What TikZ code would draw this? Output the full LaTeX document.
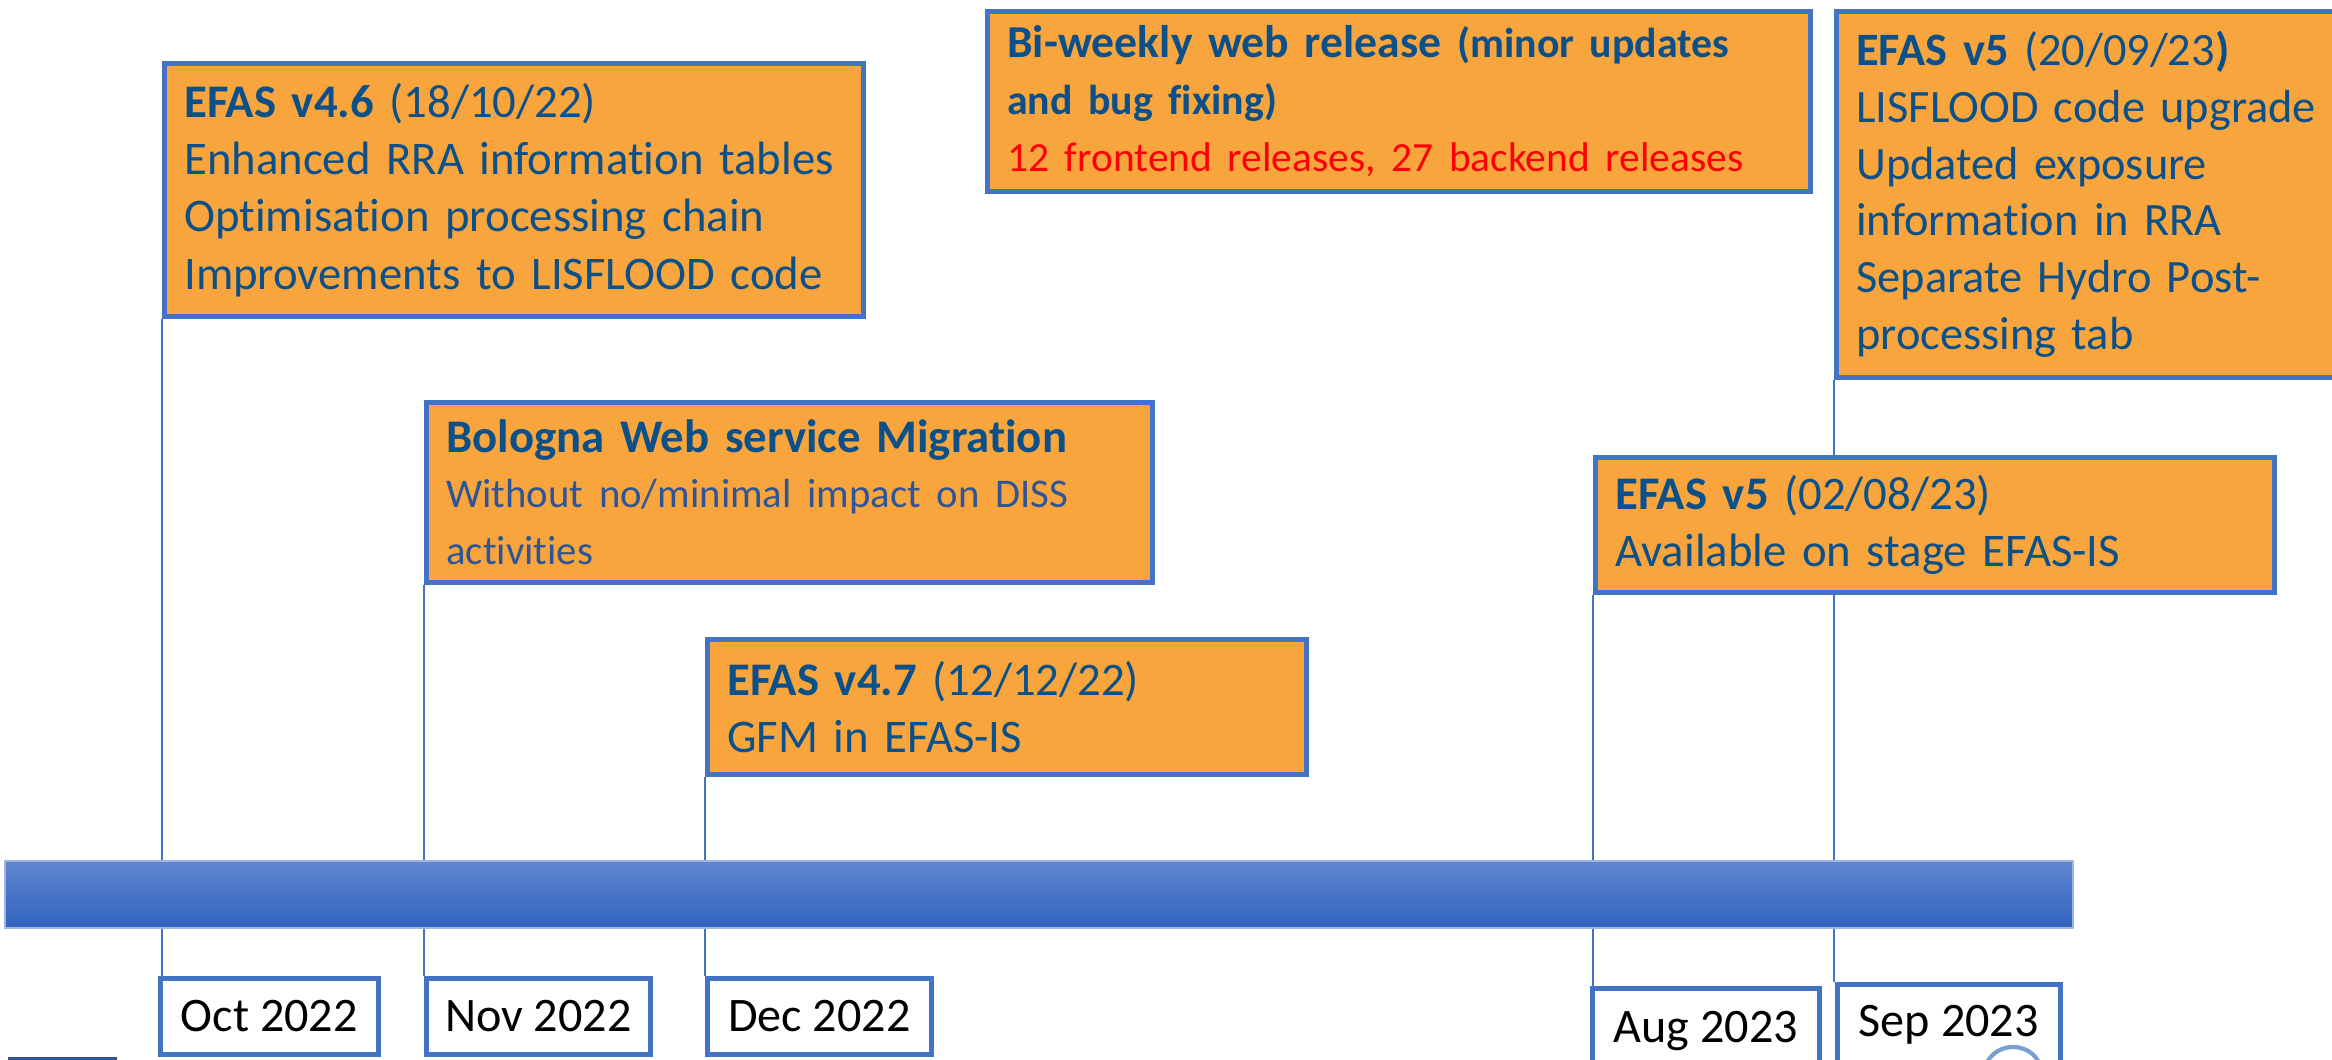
\documentclass[tikz,border=0pt]{standalone}
\usepackage{fontspec}
\setmainfont{Carlito}[Ligatures=NoCommon]
\usepackage{xcolor}
\usepackage{tikz}
\usetikzlibrary{positioning,backgrounds}

\definecolor{efasorange}{RGB}{248,165,61}
\definecolor{efasborder}{RGB}{68,114,196}
\definecolor{efastext}{RGB}{12,80,138}
\definecolor{efaslight}{RGB}{47,85,151}
\definecolor{barlight}{RGB}{96,134,206}
\definecolor{bardark}{RGB}{48,99,190}
\definecolor{arcblue}{RGB}{120,160,210}

\begin{document}
\begin{tikzpicture}[
    event/.style={draw=efasborder, line width=1.3pt, fill=efasorange, anchor=north west,
        align=left, inner xsep=0.2cm, text=efastext, font=\fontsize{13.3}{16.3}\selectfont},
    datebox/.style={draw=efasborder, line width=1.3pt, fill=white, anchor=north west,
        font=\fontsize{13.7}{15}\selectfont},
    link/.style={draw=efasborder, line width=0.6pt}
]
    \clip (0,0) rectangle (23.32,-10.59);

    % Event boxes
    \node[event, minimum width=6.99cm, minimum height=2.53cm, text width=6.59cm] (v46) at (1.62,-0.61)
        {\textbf{EFAS v4.6} (18/10/22)\\ Enhanced RRA information tables\\ Optimisation processing chain\\ Improvements to LISFLOOD code};
    \node[event, minimum width=8.23cm, minimum height=1.80cm, text width=7.83cm] (web) at (9.85,-0.09)
        {{\fontsize{13}{15}\selectfont\bfseries Bi-weekly web release} {\fontsize{11.9}{15}\selectfont\bfseries (minor updates\\ and bug fixing)}\\
         {\color{red}\fontsize{11.8}{15}\selectfont 12 frontend releases, 27 backend releases}};
    \node[event, minimum width=6cm, minimum height=3.66cm, text width=5.6cm,
        font=\fontsize{13.2}{16.2}\selectfont] (v5b) at (18.34,-0.09)
        {\textbf{EFAS v5} (20/09/23\textbf{)}\\ LISFLOOD code upgrade\\ Updated exposure\\ information in RRA\\ Separate Hydro Post-\\ processing tab};
    \node[event, minimum width=7.26cm, minimum height=1.80cm, text width=6.86cm] (bol) at (4.24,-4.00)
        {\textbf{Bologna Web service Migration}\\
         {\color{efaslight}\fontsize{11.6}{15.6}\selectfont Without no/minimal impact on DISS\\ activities}};
    \node[event, minimum width=5.99cm, minimum height=1.35cm, text width=5.59cm] (v47) at (7.05,-6.37)
        {\textbf{EFAS v4.7} (12/12/22)\\ GFM in EFAS-IS};
    \node[event, minimum width=6.79cm, minimum height=1.35cm, text width=6.39cm] (v5a) at (15.93,-4.55)
        {\textbf{EFAS v5} (02/08/23)\\ Available on stage EFAS-IS};

    % Timeline bar
    \shade[top color=barlight, bottom color=bardark, draw=barlight!60!white, line width=0.4pt]
        (0.05,-8.61) rectangle (20.73,-9.28);

    % Month boxes
    \node[datebox, minimum width=2.18cm, minimum height=0.76cm] (oct) at (1.58,-9.76) {Oct 2022};
    \node[datebox, minimum width=2.24cm, minimum height=0.76cm] (nov) at (4.24,-9.76) {Nov 2022};
    \node[datebox, minimum width=2.24cm, minimum height=0.76cm] (dec) at (7.05,-9.76) {Dec 2022};
    \node[datebox, minimum width=2.27cm, minimum height=0.85cm] (aug) at (15.90,-9.86) {Aug 2023};
    \node[datebox, minimum width=2.23cm, minimum height=0.80cm] (sep) at (18.35,-9.82) {Sep 2023};

    % Connectors
    \begin{scope}[on background layer]
        \foreach \ev/\mo in {v46/oct, bol/nov, v47/dec, v5a/aug, v5b/sep} {
            \draw[link] (\ev.south west) -- (\ev.south west |- \mo.north);
        }
    \end{scope}

    % Cut-off shapes at the lower edge
    \fill[efaslight] (0.08,-10.57) rectangle (1.17,-10.62);
    \draw[arcblue, line width=1.2pt] (20.13,-10.72) ellipse (0.28cm and 0.25cm);
\end{tikzpicture}
\end{document}
